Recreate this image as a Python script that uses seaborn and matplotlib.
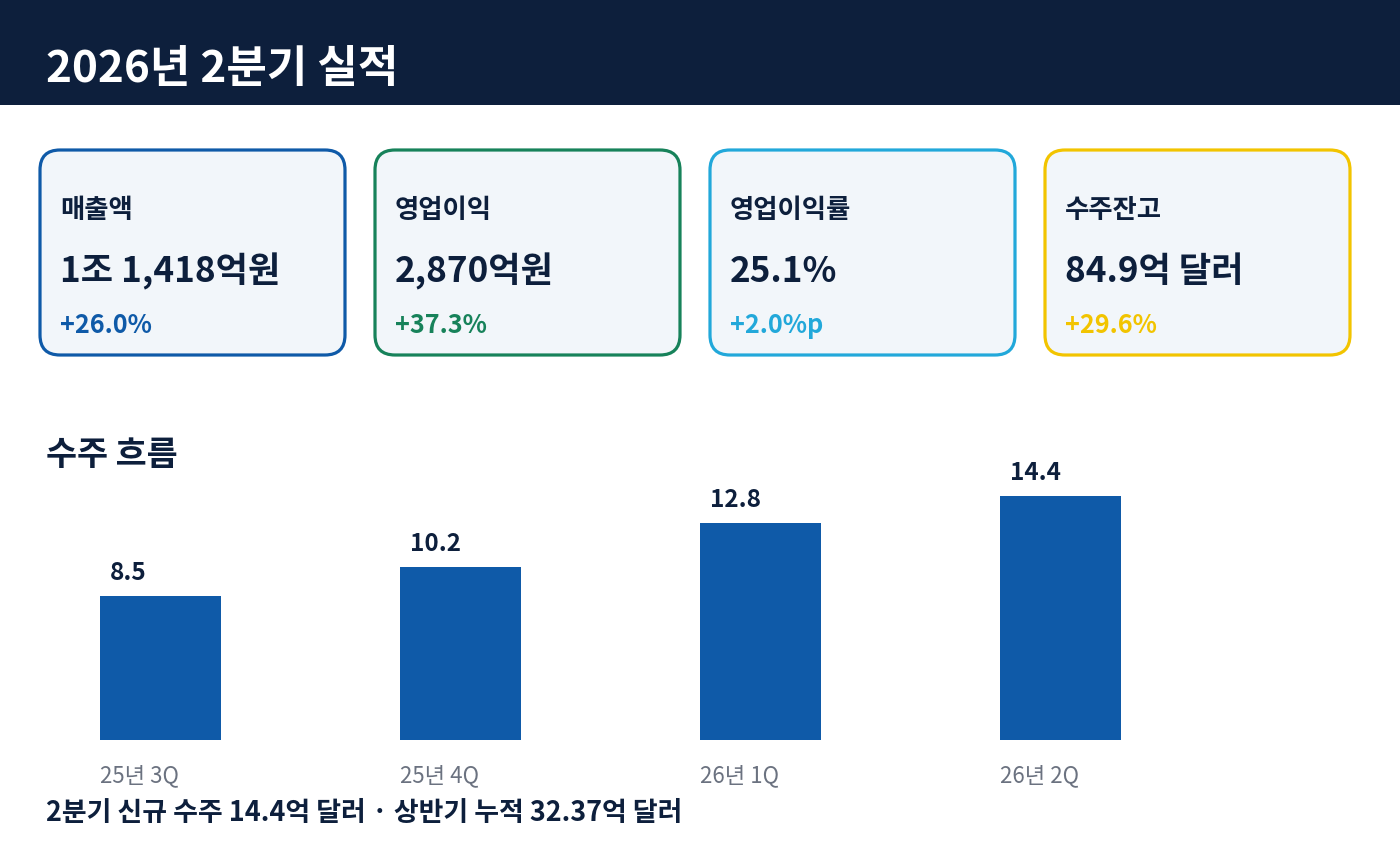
import matplotlib
matplotlib.use('Agg')
import matplotlib.pyplot as plt
from matplotlib.patches import FancyBboxPatch, Rectangle
import seaborn as sns
import pandas as pd

# data
title = '2026년 2분기 실적'
card_labels = ['매출액', '영업이익', '영업이익률', '수주잔고']
card_values = ['1조 1,418억원', '2,870억원', '25.1%', '84.9억 달러']
card_changes = ['+26.0%', '+37.3%', '+2.0%p', '+29.6%']
card_colors = ['#0f5aa8', '#17825a', '#22a8da', '#f2c400']

section_title = '수주 흐름'
quarters = ['25년 3Q', '25년 4Q', '26년 1Q', '26년 2Q']
orders = [8.5, 10.2, 12.8, 14.4]
footer = '2분기 신규 수주 14.4억 달러 · 상반기 누적 32.37억 달러'

navy = '#0d1f3c'
bar_color = '#0f5aa8'
gray = '#6b7280'

sns.set_theme(style='white')
plt.rcParams['font.family'] = ['Noto Sans CJK KR', 'DejaVu Sans']

W, H = 1400, 850
fig = plt.figure(figsize=(W / 100, H / 100), dpi=100)
fig.patch.set_facecolor('white')

# full-figure axes in pixel units for header / cards / text
bg = fig.add_axes([0, 0, 1, 1], zorder=0)
bg.set_xlim(0, W)
bg.set_ylim(H, 0)
bg.axis('off')

bg.add_patch(Rectangle((0, 0), W, 105, color=navy, lw=0))
bg.text(46, 82, title, color='white', fontsize=31.7, fontweight='bold', va='baseline')

# KPI cards
card_w, card_h, gap, r = 305, 205, 30, 20
for i, (lab, val, chg, col) in enumerate(zip(card_labels, card_values, card_changes, card_colors)):
    x0 = 40 + i * (card_w + gap)
    y0 = 150
    box = FancyBboxPatch((x0 + r, y0 + r), card_w - 2 * r, card_h - 2 * r,
                         boxstyle=f'round,pad={r}', facecolor='#f2f6fa',
                         edgecolor=col, linewidth=2.3)
    bg.add_patch(box)
    bg.text(x0 + 20, 218, lab, color=navy, fontsize=19, fontweight='bold', va='baseline')
    bg.text(x0 + 20, 282, val, color=navy, fontsize=25.3, fontweight='bold', va='baseline')
    bg.text(x0 + 20, 333, chg, color=col, fontsize=18.2, fontweight='bold', va='baseline')

bg.text(46, 465, section_title, color=navy, fontsize=24.3, fontweight='bold', va='baseline')
bg.text(46, 821, footer, color=navy, fontsize=19.4, fontweight='bold', va='baseline')

# bar chart
px_per_unit = 16.94
ax_left, ax_bottom, ax_w, ax_h = 10.5, 740, 1200, 300
ax = fig.add_axes([ax_left / W, 1 - ax_bottom / H, ax_w / W, ax_h / H], zorder=1)
ax.set_facecolor('none')
df = pd.DataFrame({'quarter': quarters, 'orders': orders})
bw = 121 / 300
sns.barplot(data=df, x='quarter', y='orders', color=bar_color, saturation=1,
            width=bw, ax=ax, linewidth=0)
ax.set_xlim(-0.5, 3.5)
ax.set_ylim(0, ax_h / px_per_unit)
ax.axis('off')

for i, (q, v) in enumerate(zip(quarters, orders)):
    ax.annotate(f'{v:.1f}', xy=(i - bw / 2, v), xytext=(10, 16), textcoords='offset pixels',
                ha='left', va='baseline', fontsize=17.5, fontweight='bold', color=navy)
    ax.annotate(q, xy=(i - bw / 2, 0), xytext=(0, -42), textcoords='offset pixels',
                ha='left', va='baseline', fontsize=16, color=gray, annotation_clip=False)

fig.savefig('out.png', dpi=100)
